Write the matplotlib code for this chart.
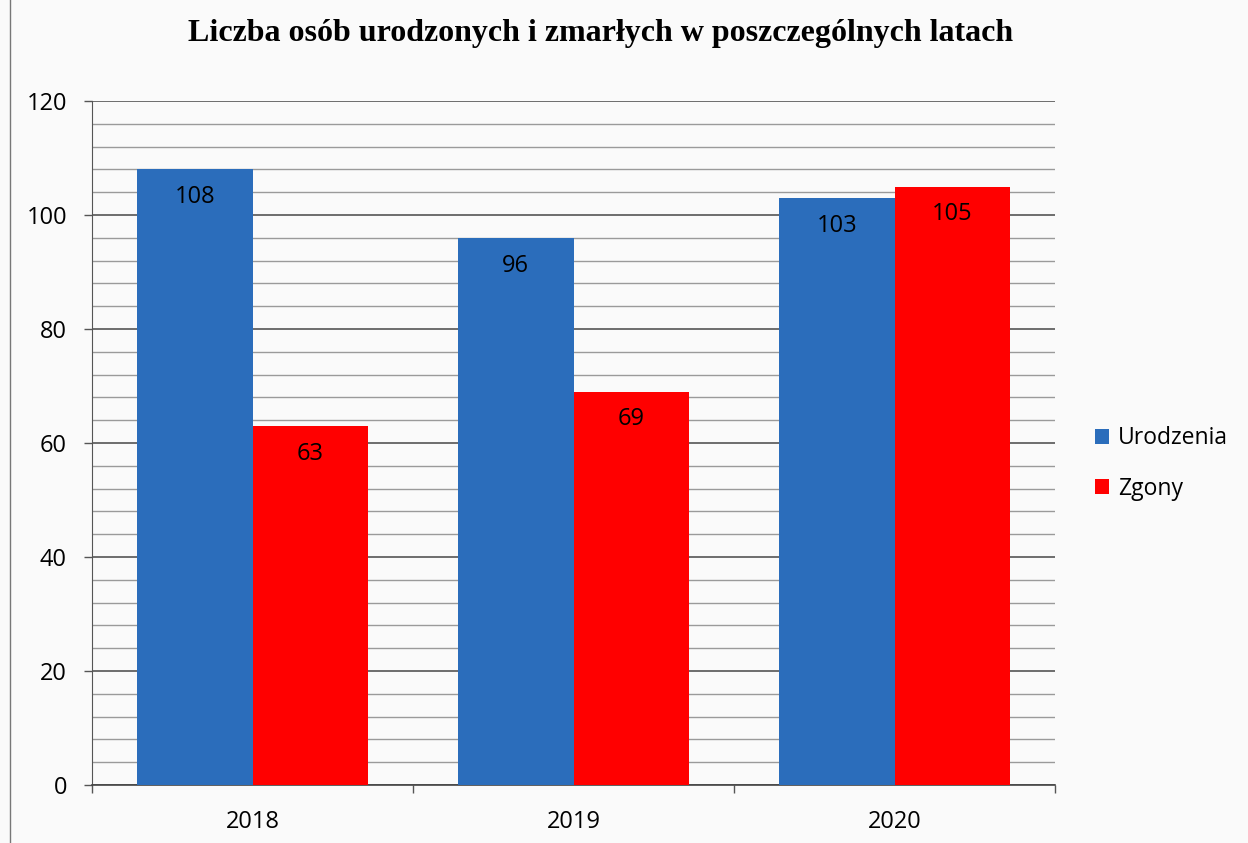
import matplotlib.pyplot as plt
import numpy as np
from matplotlib.lines import Line2D

# Data
years = ["2018", "2019", "2020"]
urodzenia = [108, 96, 103]
zgony = [63, 69, 105]

BLUE = '#2b6dbb'
RED = '#ff0000'
FONT = 'Open Sans'

fig = plt.figure(figsize=(12.48, 8.43), dpi=100)
fig.patch.set_facecolor('#fafafa')
ax = fig.add_axes([92 / 1248, 1 - 785 / 843, (1055 - 92) / 1248, (785 - 101) / 843])
ax.set_facecolor('#fafafa')

x = np.arange(len(years))
w = 0.36
b1 = ax.bar(x - w / 2, urodzenia, w, color=BLUE, label='Urodzenia', zorder=3)
b2 = ax.bar(x + w / 2, zgony, w, color=RED, label='Zgony', zorder=3)

# labels inside the bars, near the top
for bars, vals in ((b1, urodzenia), (b2, zgony)):
    for bar, v in zip(bars, vals):
        ax.annotate(str(v), (bar.get_x() + bar.get_width() / 2, v),
                    xytext=(0, -20), textcoords='offset points',
                    ha='center', va='center', fontsize=17, family=FONT,
                    color='black', zorder=4)

# axes
ax.set_xlim(-0.5, len(years) - 0.5)
ax.set_ylim(0, 120)
ax.set_yticks(range(0, 121, 20))
ax.set_yticks(range(0, 121, 4), minor=True)
ax.grid(True, which='major', axis='y', color='#555555', lw=1.2, zorder=0)
ax.grid(True, which='minor', axis='y', color='#9a9a9a', lw=1.0, zorder=0)
ax.set_xticks(x)
ax.set_xticklabels(years)
ax.set_xticks(np.arange(-0.5, len(years), 1.0), minor=True)

ax.tick_params(axis='y', which='major', length=6, width=1, pad=12,
               labelsize=17, direction='out', color='#555555')
ax.tick_params(axis='y', which='minor', length=0)
ax.tick_params(axis='x', which='major', length=0, pad=18, labelsize=17)
ax.tick_params(axis='x', which='minor', length=6, width=1, direction='out',
               color='#555555')
for lab in ax.get_xticklabels() + ax.get_yticklabels():
    lab.set_family(FONT)

for s in ('top', 'right'):
    ax.spines[s].set_visible(False)
ax.spines['left'].set_color('#555555')
ax.spines['bottom'].set_color('#444444')
ax.spines['bottom'].set_linewidth(1.2)

fig.suptitle('Liczba osób urodzonych i zmarłych w poszczególnych latach',
             x=0.481, y=0.978, fontsize=23, fontweight='bold',
             family='Liberation Serif')

leg = ax.legend(loc='center left', bbox_to_anchor=(1.02, 0.47), frameon=False,
                prop={'family': FONT, 'size': 16.5}, handlelength=0.6,
                handleheight=0.6, handletextpad=0.4, labelspacing=1.15)

# outer border line at the left
fig.add_artist(Line2D([10 / 1248, 10 / 1248], [0, 1], color='#777777', lw=1,
                      transform=fig.transFigure))

fig.savefig('out.png', dpi=100, facecolor=fig.get_facecolor())
